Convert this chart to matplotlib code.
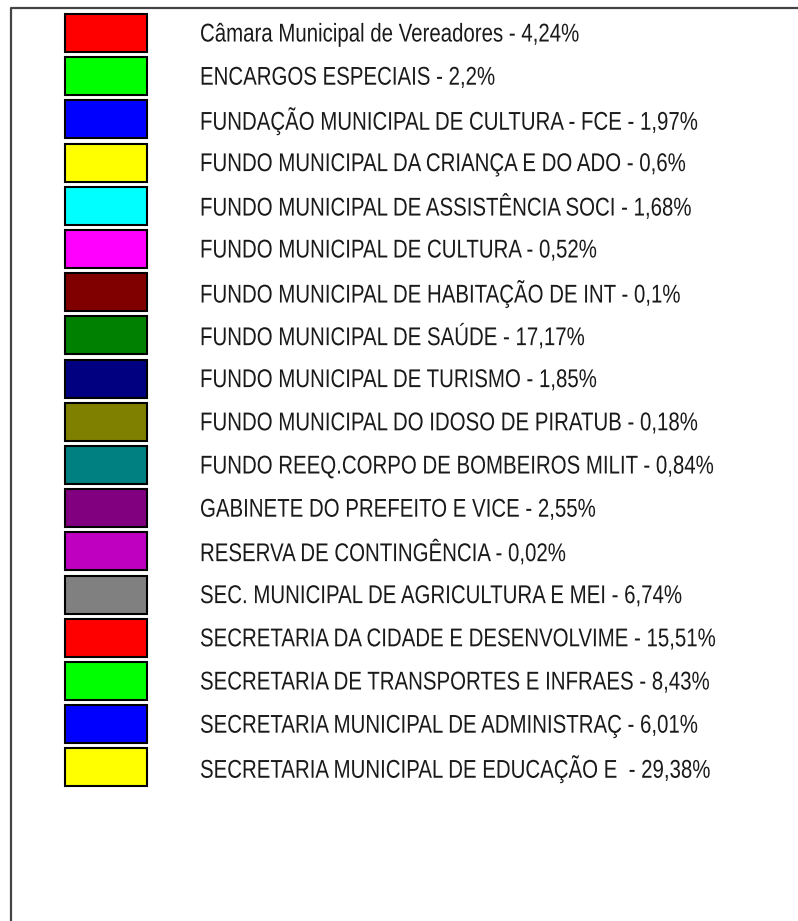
import matplotlib
matplotlib.use("Agg")
import matplotlib.pyplot as plt
from matplotlib.patheffects import AbstractPathEffect
from matplotlib.transforms import Affine2D

# legend entries as shown in the reference
labels = [
    "Câmara Municipal de Vereadores",
    "ENCARGOS ESPECIAIS",
    "FUNDAÇÃO MUNICIPAL DE CULTURA - FCE",
    "FUNDO MUNICIPAL DA CRIANÇA E DO ADO",
    "FUNDO MUNICIPAL DE ASSISTÊNCIA SOCI",
    "FUNDO MUNICIPAL DE CULTURA",
    "FUNDO MUNICIPAL DE HABITAÇÃO DE INT",
    "FUNDO MUNICIPAL DE SAÚDE",
    "FUNDO MUNICIPAL DE TURISMO",
    "FUNDO MUNICIPAL DO IDOSO DE PIRATUB",
    "FUNDO REEQ.CORPO DE BOMBEIROS MILIT",
    "GABINETE DO PREFEITO E VICE",
    "RESERVA DE CONTINGÊNCIA",
    "SEC. MUNICIPAL DE AGRICULTURA E MEI",
    "SECRETARIA DA CIDADE E DESENVOLVIME",
    "SECRETARIA DE TRANSPORTES E INFRAES",
    "SECRETARIA MUNICIPAL DE ADMINISTRAÇ",
    "SECRETARIA MUNICIPAL DE EDUCAÇÃO E ",
]
percents = ["4,24", "2,2", "1,97", "0,6", "1,68", "0,52", "0,1", "17,17", "1,85",
            "0,18", "0,84", "2,55", "0,02", "6,74", "15,51", "8,43", "6,01", "29,38"]
colors = ["#FF0000", "#00FF00", "#0000FF", "#FFFF00", "#00FFFF", "#FF00FF",
          "#800000", "#008000", "#000080", "#808000", "#008080", "#800080",
          "#C000C0", "#808080", "#FF0000", "#00FF00", "#0000FF", "#FFFF00"]


class Condense(AbstractPathEffect):
    """Squeeze text horizontally about x0, then shift it by dx (narrow font look)."""

    def __init__(self, x0, sx, dx):
        super().__init__()
        self.x0 = x0
        self.sx = sx
        self.dx = dx

    def draw_path(self, renderer, gc, tpath, affine, rgbFace=None):
        squeeze = (Affine2D().translate(-self.x0, 0).scale(self.sx, 1)
                   .translate(self.x0 + self.dx, 0))
        renderer.draw_path(gc, tpath, affine + squeeze, rgbFace)


W, H = 798, 921
fig = plt.figure(figsize=(W / 100, H / 100), dpi=100)
ax = fig.add_axes([0, 0, 1, 1])
ax.set_xlim(0, W)
ax.set_ylim(H, 0)
ax.axis("off")

# frame (only left and top edges visible in the crop)
ax.plot([11, 11, W], [H, 8, 8], color="#444444", lw=1.6, solid_capstyle="butt")

rows = [33 + 43.2 * i for i in range(len(labels))]
ax.barh(rows, width=82, left=65, height=38, color=colors,
        edgecolor="black", linewidth=1.5)

anchor_x = 150   # unsqueezed layout anchor
text_x = 200     # where the condensed text actually starts
for y, lab, p in zip(rows, labels, percents):
    ax.text(anchor_x, y + 1.5, f"{lab} - {p}%", fontsize=18.5, family="Liberation Sans",
            color="#1a1a1a", va="center", ha="left",
            path_effects=[Condense(anchor_x, 0.795, text_x - anchor_x)])

fig.savefig("out.png", dpi=100)
